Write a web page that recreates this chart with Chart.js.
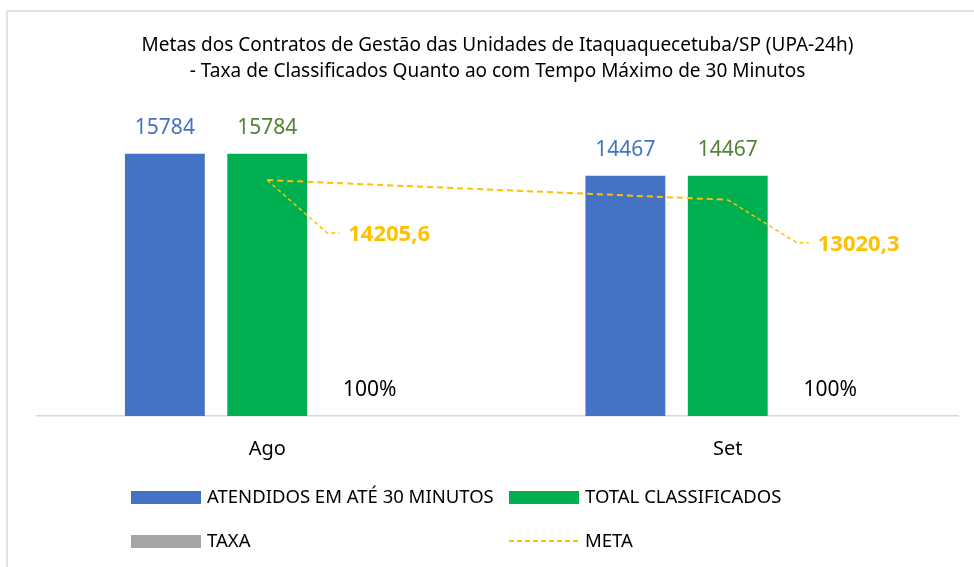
<!DOCTYPE html>
<html>
<head>
<meta charset="utf-8">
<script src="https://cdn.jsdelivr.net/npm/chart.js@4/dist/chart.umd.min.js"></script>
<style>
  body { margin: 0; background: #fff; }
  #wrap { width: 974px; height: 567px; }
</style>
</head>
<body>
<div id="wrap"><canvas id="myChart" width="974" height="567"></canvas></div>
<script>
// data
var meses = ['Ago', 'Set'];
var atendidos = [15784, 14467];
var totalClassificados = [15784, 14467];
var taxa = [1, 1]; // 100%
var meta = [14205.6, 13020.3];
var tituloLinhas = [
  'Metas dos Contratos de Gestão das Unidades de Itaquaquecetuba/SP (UPA-24h)',
  '- Taxa de Classificados Quanto ao com Tempo Máximo de 30 Minutos'
];

var FONT = "'Noto Sans', sans-serif";
var AMARELO = '#FFC000';

function fmtNumero(v) {
  return String(v).replace('.', ',');
}

// moldura cinza do grafico
var moldura = {
  id: 'moldura',
  beforeDraw: function(chart) {
    var ctx = chart.ctx;
    ctx.save();
    ctx.strokeStyle = '#d9d9d9';
    ctx.lineWidth = 1.5;
    ctx.strokeRect(7, 11, 1100, 700);
    ctx.restore();
  }
};

// rotulos dos valores das barras e da meta
var rotulos = {
  id: 'rotulos',
  afterDatasetsDraw: function(chart) {
    var ctx = chart.ctx;
    ctx.save();
    ctx.textAlign = 'center';
    ctx.textBaseline = 'middle';
    chart.data.datasets.forEach(function(ds, i) {
      var metaInfo = chart.getDatasetMeta(i);
      if (ds.type === 'line') {
        var offs = [{dx: 60, dy: 53}, {dx: 69, dy: 43}];
        metaInfo.data.forEach(function(pt, j) {
          var o = offs[j];
          var x2 = pt.x + o.dx, y2 = pt.y + o.dy;
          ctx.strokeStyle = AMARELO;
          ctx.lineWidth = 1.5;
          ctx.setLineDash([4, 3]);
          ctx.beginPath();
          ctx.moveTo(pt.x, pt.y);
          ctx.lineTo(x2, y2);
          ctx.lineTo(x2 + 12, y2);
          ctx.stroke();
          ctx.setLineDash([]);
          ctx.fillStyle = AMARELO;
          ctx.font = 'bold 22px ' + FONT;
          ctx.textAlign = 'left';
          ctx.fillText(fmtNumero(ds.data[j]), x2 + 21, y2 + 2);
          ctx.textAlign = 'center';
        });
      } else {
        metaInfo.data.forEach(function(bar, j) {
          var txt = ds.label === 'TAXA' ? Math.round(ds.data[j] * 100) + '%' : String(ds.data[j]);
          ctx.fillStyle = ds.labelColor;
          ctx.font = '21px ' + FONT;
          ctx.fillText(txt, bar.x, bar.y - 26);
        });
      }
    });
    ctx.restore();
  }
};

// legenda em duas colunas, como no Excel
var legenda = {
  id: 'legenda',
  afterDraw: function(chart) {
    var ctx = chart.ctx;
    var pos = [
      {x: 131, y: 497}, {x: 509, y: 497},
      {x: 131, y: 541}, {x: 509, y: 541}
    ];
    ctx.save();
    ctx.font = '18.5px ' + FONT;
    ctx.textBaseline = 'middle';
    ctx.textAlign = 'left';
    chart.data.datasets.forEach(function(ds, i) {
      var p = pos[i];
      if (ds.type === 'line') {
        ctx.strokeStyle = ds.borderColor;
        ctx.lineWidth = 2;
        ctx.setLineDash([5, 3]);
        ctx.beginPath();
        ctx.moveTo(p.x, p.y);
        ctx.lineTo(p.x + 70, p.y);
        ctx.stroke();
        ctx.setLineDash([]);
      } else {
        ctx.fillStyle = ds.backgroundColor;
        ctx.fillRect(p.x, p.y - 6, 70, 13);
      }
      ctx.fillStyle = '#000';
      ctx.fillText(ds.label, p.x + 76, p.y + 1);
    });
    ctx.restore();
  }
};

var ctx = document.getElementById('myChart').getContext('2d');
var myChart = new Chart(ctx, {
  data: {
    labels: meses,
    datasets: [
      {
        type: 'bar',
        label: 'ATENDIDOS EM ATÉ 30 MINUTOS',
        data: atendidos,
        backgroundColor: '#4472C4',
        labelColor: '#4472C4',
        order: 1
      },
      {
        type: 'bar',
        label: 'TOTAL CLASSIFICADOS',
        data: totalClassificados,
        backgroundColor: '#00B050',
        labelColor: '#548235',
        order: 1
      },
      {
        type: 'bar',
        label: 'TAXA',
        data: taxa,
        backgroundColor: '#A5A5A5',
        labelColor: '#000000',
        order: 1
      },
      {
        type: 'line',
        label: 'META',
        data: meta,
        borderColor: AMARELO,
        borderWidth: 2,
        borderDash: [6, 4],
        pointRadius: 0,
        fill: false,
        order: 0
      }
    ]
  },
  options: {
    responsive: false,
    animation: false,
    datasets: {
      bar: { categoryPercentage: 0.667, barPercentage: 0.78 }
    },
    layout: {
      padding: { left: 37, right: 16, top: 0, bottom: 85 }
    },
    plugins: {
      legend: { display: false },
      tooltip: { enabled: false },
      title: {
        display: true,
        text: tituloLinhas,
        color: '#000',
        font: { family: FONT, size: 19, weight: 'normal', lineHeight: 1.37 },
        padding: { top: 33, bottom: 32 }
      }
    },
    scales: {
      x: {
        grid: { display: false, drawTicks: false },
        border: { display: true, color: '#d9d9d9', width: 1.5 },
        ticks: { color: '#000', font: { family: FONT, size: 20 }, padding: 21 }
      },
      y: {
        display: false,
        min: 0,
        max: 18000
      }
    }
  },
  plugins: [moldura, rotulos, legenda]
});
</script>
</body>
</html>
